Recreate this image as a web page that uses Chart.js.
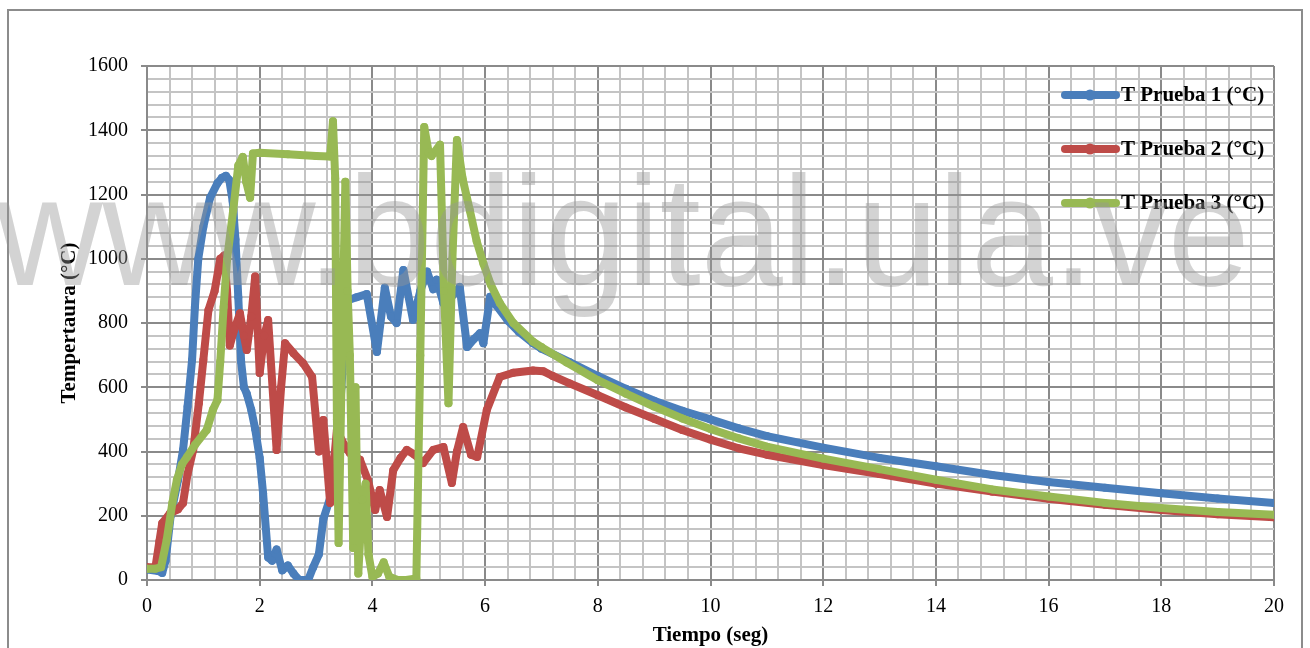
<!DOCTYPE html>
<html>
<head>
<meta charset="utf-8">
<script src="https://cdn.jsdelivr.net/npm/chart.js@4.4.1/dist/chart.umd.min.js"></script>
<style>
  body { margin: 0; background: #fff; }
  #wrap { position: relative; width: 1310px; height: 648px; overflow: hidden; }
  #marca {
    position: absolute; left: -4px; top: 153px;
    font-family: 'Liberation Sans', Arial, sans-serif;
    font-size: 156px; line-height: 156px;
    color: rgba(150, 150, 150, 0.42);
    white-space: nowrap; pointer-events: none;
    transform: scaleX(0.945); transform-origin: 0 0;
  }
</style>
</head>
<body>
<div id="wrap">
  <canvas id="grafico" width="1310" height="648"></canvas>
  <div id="marca">www.bdigital.ula.ve</div>
</div>
<script>
// Datos (tiempo en seg, temperatura en °C)
const tiempo1 = [0, 0.2, 0.27, 0.33, 0.42, 0.55, 0.64, 0.72, 0.8, 0.85, 0.91, 1.0, 1.12, 1.25, 1.33, 1.4, 1.46, 1.52, 1.57, 1.62, 1.67, 1.72, 1.77, 1.85, 1.92, 2.0, 2.06, 2.15, 2.22, 2.3, 2.4, 2.5, 2.6, 2.7, 2.86, 2.95, 3.05, 3.13, 3.25, 3.35, 3.45, 3.55, 3.72, 3.9, 4.08, 4.22, 4.33, 4.43, 4.55, 4.72, 4.85, 4.97, 5.08, 5.14, 5.26, 5.4, 5.55, 5.68, 5.8, 5.91, 5.97, 6.09, 6.2, 6.4, 6.6, 6.85, 7, 7.5, 8, 8.5, 9, 9.5, 10, 10.5, 11, 12, 13, 14, 15, 16, 17, 18, 19, 20];
const temp1   = [33, 28, 22, 60, 200, 311, 405, 540, 685, 850, 1000, 1100, 1190, 1235, 1252, 1258, 1245, 1180, 1060, 880, 680, 600, 580, 530, 470, 380, 270, 70, 60, 95, 30, 45, 20, 0, 0, 40, 80, 190, 255, 300, 600, 870, 880, 890, 710, 910, 820, 800, 965, 810, 900, 960, 905, 935, 862, 880, 912, 725, 750, 768, 737, 882, 855, 808, 772, 737, 720, 678, 635, 595, 558, 527, 500, 472, 448, 412, 380, 354, 327, 305, 287, 270, 254, 240];

const tiempo2 = [0, 0.15, 0.22, 0.27, 0.41, 0.55, 0.64, 0.72, 0.82, 0.92, 1.0, 1.09, 1.2, 1.3, 1.37, 1.42, 1.47, 1.55, 1.65, 1.72, 1.77, 1.85, 1.92, 2.0, 2.08, 2.15, 2.3, 2.38, 2.45, 2.6, 2.77, 2.93, 3.05, 3.13, 3.25, 3.37, 3.5, 3.6, 3.78, 3.92, 4.05, 4.13, 4.26, 4.37, 4.5, 4.61, 4.75, 4.9, 5.08, 5.26, 5.41, 5.5, 5.61, 5.75, 5.86, 6.03, 6.26, 6.5, 6.85, 7.03, 7.2, 7.5, 8, 8.5, 9, 9.5, 10, 10.5, 11, 12, 13, 14, 15, 16, 17, 18, 19, 20];
const temp2   = [40, 40, 120, 177, 208, 220, 240, 330, 405, 550, 685, 840, 900, 1000, 1010, 900, 730, 780, 830, 760, 716, 820, 945, 644, 760, 809, 405, 600, 737, 706, 675, 632, 400, 498, 240, 467, 420, 395, 374, 311, 218, 280, 196, 342, 380, 405, 390, 364, 405, 414, 302, 400, 476, 390, 383, 529, 632, 645, 652, 650, 635, 612, 575, 537, 502, 467, 437, 410, 390, 358, 330, 300, 275, 253, 234, 218, 205, 195];

const tiempo3 = [0, 0.15, 0.25, 0.35, 0.45, 0.53, 0.62, 0.71, 0.85, 1.06, 1.17, 1.25, 1.3, 1.36, 1.42, 1.53, 1.62, 1.7, 1.76, 1.83, 1.88, 2.0, 2.5, 3.0, 3.25, 3.3, 3.34, 3.37, 3.4, 3.45, 3.52, 3.56, 3.6, 3.66, 3.7, 3.75, 3.82, 3.88, 3.93, 4.0, 4.1, 4.2, 4.3, 4.45, 4.6, 4.78, 4.85, 4.92, 5.0, 5.05, 5.2, 5.27, 5.35, 5.42, 5.5, 5.6, 5.73, 5.85, 5.97, 6.1, 6.26, 6.5, 6.85, 7, 7.45, 8, 8.5, 9, 9.5, 10, 10.5, 11, 12, 13, 14, 15, 16, 17, 18, 19, 20];
const temp3   = [35, 35, 40, 125, 240, 311, 360, 383, 420, 467, 530, 560, 680, 850, 996, 1152, 1290, 1317, 1240, 1190, 1328, 1330, 1325, 1320, 1318, 1428, 1250, 500, 115, 600, 1240, 900, 700, 100, 600, 20, 250, 300, 80, 10, 20, 55, 10, 0, 0, 5, 700, 1410, 1330, 1320, 1355, 900, 550, 1000, 1370, 1250, 1150, 1055, 985, 920, 862, 800, 742, 725, 677, 622, 580, 540, 503, 470, 441, 415, 378, 345, 312, 282, 260, 240, 224, 212, 203];

const nombres = ['T Prueba 1 (°C)', 'T Prueba 2 (°C)', 'T Prueba 3 (°C)'];
const colores = ['#4a7ebb', '#be4b48', '#98b954'];

const puntos = (xs, ys) => xs.map((x, i) => ({ x: x, y: ys[i] }));
const esMayorX = v => Math.abs(v / 2 - Math.round(v / 2)) < 1e-6;
const esMayorY = v => Math.abs(v / 200 - Math.round(v / 200)) < 1e-6;

Chart.defaults.font.family = "'Liberation Serif', 'Times New Roman', serif";
Chart.defaults.color = '#000';

function serie(i, xs, ys, orden) {
  return {
    label: nombres[i],
    data: puntos(xs, ys),
    borderColor: colores[i],
    backgroundColor: colores[i],
    borderWidth: 8,
    pointRadius: 4,
    pointBorderWidth: 0,
    pointHoverRadius: 4,
    borderJoinStyle: 'round',
    borderCapStyle: 'round',
    tension: 0,
    order: orden
  };
}

// marco exterior y leyenda dentro del area de trazado
const extras = {
  id: 'extras',
  beforeDraw(chart) {
    const c = chart.ctx;
    c.save();
    c.fillStyle = '#fff';
    c.fillRect(0, 0, chart.width, chart.height);
    c.strokeStyle = '#8c8c8c';
    c.lineWidth = 2;
    c.strokeRect(8, 10, 1294, 700);
    c.restore();
  },
  afterDraw(chart) {
    const c = chart.ctx;
    const ys = [95, 149, 203];
    c.save();
    c.font = "bold 21px 'Liberation Serif', 'Times New Roman', serif";
    c.textBaseline = 'middle';
    nombres.forEach((n, i) => {
      c.strokeStyle = colores[i];
      c.lineWidth = 8;
      c.lineCap = 'round';
      c.beginPath();
      c.moveTo(1065, ys[i]);
      c.lineTo(1116, ys[i]);
      c.stroke();
      c.fillStyle = colores[i];
      c.beginPath();
      c.arc(1090, ys[i], 5.5, 0, Math.PI * 2);
      c.fill();
      c.fillStyle = '#000';
      c.fillText(n, 1121, ys[i] + 1);
    });
    c.restore();
  }
};

new Chart(document.getElementById('grafico'), {
  type: 'line',
  data: {
    datasets: [
      serie(0, tiempo1, temp1, 3),
      serie(1, tiempo2, temp2, 2),
      serie(2, tiempo3, temp3, 1)
    ]
  },
  plugins: [extras],
  options: {
    responsive: false,
    animation: false,
    layout: { padding: { left: 0, top: 66, right: 36, bottom: 0 } },
    plugins: { legend: { display: false }, tooltip: { enabled: false } },
    scales: {
      x: {
        type: 'linear',
        min: 0,
        max: 20,
        afterFit: s => { s.height = 68; },
        ticks: {
          stepSize: 0.4,
          maxTicksLimit: 100,
          autoSkip: false,
          maxRotation: 0,
          padding: 9,
          font: { size: 20 },
          callback: v => esMayorX(v) ? String(Math.round(v)) : ''
        },
        grid: {
          lineWidth: 2,
          tickLength: 6,
          color: c => esMayorX(c.tick.value) ? '#8a8a8a' : '#c4c4c4',
          tickColor: c => esMayorX(c.tick.value) ? '#8a8a8a' : 'rgba(0,0,0,0)'
        },
        border: { color: '#8a8a8a', width: 2 },
        title: {
          display: true,
          text: 'Tiempo (seg)',
          font: { size: 21, weight: 'bold' },
          padding: { top: 0, bottom: 0 }
        }
      },
      y: {
        min: 0,
        max: 1600,
        afterFit: s => { s.width = 147; },
        ticks: {
          stepSize: 40,
          maxTicksLimit: 100,
          autoSkip: false,
          padding: 13,
          font: { size: 20 },
          callback: v => esMayorY(v) ? String(Math.round(v)) : ''
        },
        grid: {
          lineWidth: 2,
          tickLength: 6,
          color: c => esMayorY(c.tick.value) ? '#8a8a8a' : '#c4c4c4',
          tickColor: c => esMayorY(c.tick.value) ? '#8a8a8a' : 'rgba(0,0,0,0)'
        },
        border: { color: '#8a8a8a', width: 2 },
        title: {
          display: true,
          text: 'Tempertaura (°C)',
          font: { size: 21, weight: 'bold' },
          padding: { top: 57, bottom: 0 }
        }
      }
    }
  }
});
</script>
</body>
</html>
